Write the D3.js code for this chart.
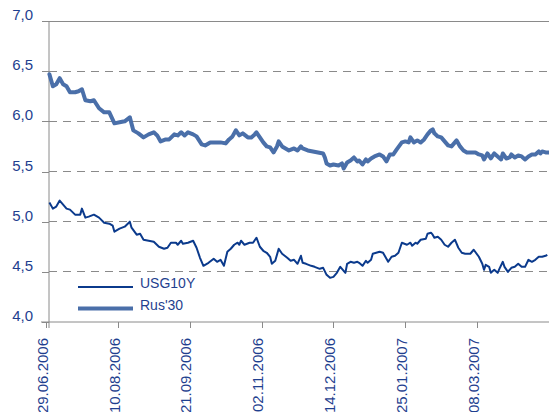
<!DOCTYPE html>
<html>
<head>
<meta charset="utf-8">
<script src="https://cdn.jsdelivr.net/npm/d3@7/dist/d3.min.js"></script>
<style>
  html, body { margin: 0; padding: 0; background: #ffffff; }
  svg { display: block; }
  text { font-family: "Liberation Sans", Arial, sans-serif; }
</style>
</head>
<body>
<svg id="chart" width="549" height="412"></svg>
<script>
// ---- data ----
const startDate = "2006-06-29";
const endOffset = 294; // days shown on the axis after startDate
const xTickLabels = ["29.06.2006", "10.08.2006", "21.09.2006", "02.11.2006", "14.12.2006", "25.01.2007", "08.03.2007"];
const yTickValues = [4.0, 4.5, 5.0, 5.5, 6.0, 6.5, 7.0];
const seriesNames = ["USG10Y", "Rus'30"];

// day offsets from startDate and yields, %
const rusDays = [2,4,6,8,10,12,14,17,19,21,23,26,28,31,34,37,40,43,46,49,51,54,57,60,63,65,67,70,72,75,77,79,81,83,86,88,91,93,96,98,100,102,105,107,109,111,113,115,118,120,122,123,125,127,129,131,133,135,136,138,140,142,145,147,149,150,153,156,159,162,163,164,166,168,171,173,174,176,178,180,182,183,185,187,188,190,192,195,197,199,201,203,205,208,210,212,213,215,217,219,221,223,225,226,227,229,231,233,235,237,239,240,242,244,246,249,251,253,255,256,258,260,262,264,266,267,269,271,272,274,276,278,280,282,284,286,288,289,290,292,294];
const rusYield = [6.47,6.35,6.37,6.43,6.37,6.35,6.29,6.29,6.30,6.32,6.21,6.20,6.21,6.13,6.09,6.09,5.98,5.99,6.00,6.04,5.91,5.88,5.84,5.87,5.89,5.86,5.80,5.82,5.82,5.87,5.86,5.89,5.86,5.89,5.87,5.85,5.77,5.76,5.79,5.79,5.79,5.79,5.78,5.82,5.85,5.91,5.86,5.88,5.84,5.84,5.87,5.89,5.84,5.79,5.75,5.74,5.69,5.75,5.80,5.75,5.73,5.71,5.73,5.71,5.75,5.73,5.71,5.70,5.69,5.68,5.64,5.58,5.56,5.57,5.56,5.58,5.53,5.59,5.61,5.64,5.60,5.61,5.57,5.62,5.60,5.63,5.65,5.67,5.65,5.60,5.67,5.67,5.72,5.79,5.80,5.79,5.84,5.79,5.81,5.79,5.82,5.87,5.91,5.92,5.88,5.85,5.84,5.80,5.76,5.75,5.79,5.81,5.75,5.71,5.69,5.69,5.69,5.67,5.66,5.62,5.68,5.63,5.68,5.65,5.62,5.68,5.63,5.64,5.67,5.64,5.66,5.65,5.62,5.65,5.67,5.67,5.70,5.68,5.70,5.69,5.69];

const usgDays = [2,4,6,8,10,12,14,17,20,21,23,25,28,31,34,37,39,40,43,46,49,50,53,55,57,60,63,66,69,71,73,76,77,79,80,83,86,88,90,92,95,98,100,102,104,106,108,110,112,113,114,116,119,121,123,125,127,129,131,132,134,136,138,141,143,145,147,149,150,152,155,157,160,162,164,166,168,170,172,174,175,176,178,180,182,183,185,187,188,190,191,193,195,197,200,202,204,206,208,211,213,214,216,217,219,222,223,225,226,227,229,231,233,235,237,239,241,243,245,248,250,253,255,256,257,259,260,262,264,265,267,268,270,272,274,276,278,280,282,284,286,288,290,292,293];
const usgYield = [5.19,5.13,5.15,5.21,5.17,5.13,5.12,5.07,5.07,5.13,5.04,5.05,5.07,5.04,4.99,4.98,4.96,4.90,4.93,4.95,5.00,4.94,4.87,4.88,4.82,4.81,4.80,4.75,4.73,4.74,4.79,4.79,4.77,4.81,4.78,4.79,4.81,4.74,4.64,4.56,4.59,4.63,4.60,4.62,4.56,4.70,4.73,4.77,4.79,4.77,4.81,4.77,4.79,4.79,4.84,4.75,4.71,4.69,4.65,4.58,4.61,4.73,4.68,4.64,4.61,4.62,4.58,4.66,4.59,4.58,4.56,4.55,4.53,4.54,4.47,4.44,4.45,4.49,4.55,4.51,4.49,4.58,4.60,4.59,4.60,4.59,4.56,4.61,4.59,4.62,4.68,4.69,4.70,4.69,4.60,4.65,4.66,4.69,4.79,4.77,4.79,4.76,4.79,4.78,4.82,4.83,4.88,4.89,4.87,4.84,4.85,4.82,4.77,4.75,4.79,4.82,4.74,4.69,4.68,4.68,4.72,4.65,4.58,4.52,4.57,4.55,4.49,4.52,4.49,4.53,4.60,4.55,4.50,4.54,4.55,4.58,4.55,4.55,4.62,4.60,4.62,4.65,4.65,4.66,4.67];

// ---- drawing ----
const svg = d3.select("#chart");
const textColor = "#1f3f8f";
const axisColor = "#8a8a8a";
const usgColor = "#0b3a8c";
const rusColor = "#4a6fa9";

const start = d3.timeParse("%Y-%m-%d")(startDate);
const parseLabel = d3.timeParse("%d.%m.%Y");
const x = d3.scaleTime()
  .domain([start, d3.timeDay.offset(start, endOffset)])
  .range([46, 549]);
const y = d3.scaleLinear().domain([4, 7]).range([322, 21]);
const axisX = 49;

// grid lines
svg.append("g")
  .selectAll("line")
  .data(yTickValues.filter(v => v > 4 && v < 7))
  .join("line")
  .attr("x1", axisX).attr("x2", 549)
  .attr("y1", d => y(d)).attr("y2", d => y(d))
  .attr("stroke", axisColor).attr("stroke-width", 1)
  .attr("stroke-dasharray", "8,6")
  .attr("shape-rendering", "crispEdges");

// top border line at 7,0
svg.append("line")
  .attr("x1", axisX).attr("x2", 549)
  .attr("y1", y(7)).attr("y2", y(7))
  .attr("stroke", axisColor).attr("stroke-width", 1)
  .attr("shape-rendering", "crispEdges");

// y axis
const yAxis = d3.axisLeft(y)
  .tickValues(yTickValues)
  .tickSize(7)
  .tickPadding(9)
  .tickFormat(d => d3.format(".1f")(d).replace(".", ","));
const gy = svg.append("g").attr("transform", `translate(${axisX},0)`).call(yAxis);
gy.select(".domain").attr("stroke", axisColor).attr("d", `M0,${y(7)}V${y(4) + 6}`);
gy.selectAll(".tick line").attr("stroke", axisColor).attr("shape-rendering", "crispEdges");
gy.selectAll(".tick text")
  .attr("fill", textColor)
  .attr("font-size", "15px")
  .attr("font-family", "'Liberation Sans', Arial, sans-serif")
  .attr("dy", "-0.1em");

// x axis
const xAxis = d3.axisBottom(x)
  .tickValues(xTickLabels.map(parseLabel))
  .tickSize(6)
  .tickFormat(d3.timeFormat("%d.%m.%Y"));
const gx = svg.append("g").attr("transform", `translate(0,${y(4)})`).call(xAxis);
gx.select(".domain").attr("stroke", axisColor).attr("d", `M41,0H549`);
gx.selectAll(".tick line").attr("stroke", axisColor).attr("shape-rendering", "crispEdges");
gx.selectAll(".tick text")
  .attr("fill", textColor)
  .attr("font-size", "15px")
  .attr("font-family", "'Liberation Sans', Arial, sans-serif")
  .attr("text-anchor", "end")
  .attr("transform", "rotate(-90)")
  .attr("x", -16)
  .attr("y", -4)
  .attr("dy", "0.35em");

// lines
const line = d3.line()
  .x(d => x(d3.timeDay.offset(start, d[0])))
  .y(d => y(d[1]));

const rusData = rusDays.map((d, i) => [d, rusYield[i]]);
const usgData = usgDays.map((d, i) => [d, usgYield[i]]);

svg.append("path")
  .datum(rusData)
  .attr("d", line)
  .attr("fill", "none")
  .attr("stroke", rusColor)
  .attr("stroke-width", 4)
  .attr("stroke-linejoin", "round")
  .attr("stroke-linecap", "round");

svg.append("path")
  .datum(usgData)
  .attr("d", line)
  .attr("fill", "none")
  .attr("stroke", usgColor)
  .attr("stroke-width", 2)
  .attr("stroke-linejoin", "round");

// legend
const legend = svg.append("g");
const legendItems = [
  { name: seriesNames[0], color: usgColor, width: 2, y: 287 },
  { name: seriesNames[1], color: rusColor, width: 4, y: 308.5 }
];
legendItems.forEach(it => {
  legend.append("line")
    .attr("x1", 78).attr("x2", 133)
    .attr("y1", it.y).attr("y2", it.y)
    .attr("stroke", it.color).attr("stroke-width", it.width);
  legend.append("text")
    .attr("x", 140).attr("y", it.y - 3.5)
    .attr("dy", "0.35em")
    .attr("fill", textColor)
    .attr("font-size", "14px")
    .text(it.name);
});
</script>
</body>
</html>
